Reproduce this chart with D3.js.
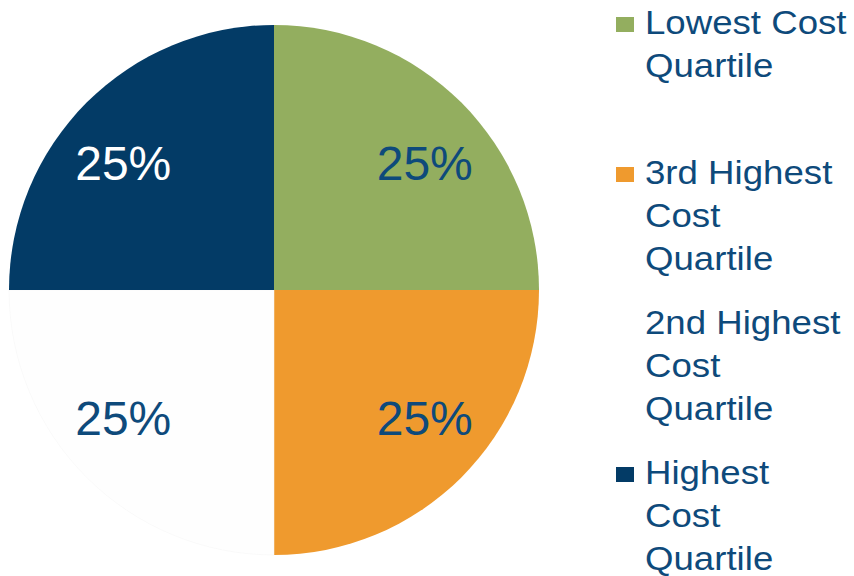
<!DOCTYPE html>
<html>
<head>
<meta charset="utf-8">
<script src="https://cdn.jsdelivr.net/npm/d3@7"></script>
<style>
  html, body { margin: 0; padding: 0; background: #fff; }
  svg { display: block; font-family: Arial, "Liberation Sans", sans-serif; }
</style>
</head>
<body>
<div id="chart"></div>
<script>
// quartile shares
const categories = ['Lowest Cost Quartile', '3rd Highest Cost Quartile', '2nd Highest Cost Quartile', 'Highest Cost Quartile'];
const values = [25, 25, 25, 25];
const colors = ['#93ae5f', '#ef9a2e', '#fefefe', '#033b66'];
const labelColors = ['#0e4a7b', '#0e4a7b', '#0e4a7b', '#ffffff'];
// legend lines (wrapped like the original)
const legendLines = [
  ['Lowest Cost', 'Quartile'],
  ['3rd Highest', 'Cost', 'Quartile'],
  ['2nd Highest', 'Cost', 'Quartile'],
  ['Highest', 'Cost', 'Quartile']
];

const width = 854, height = 576;
const margin = { cx: 274, cy: 290, r: 265, labelR: 205 };

const svg = d3.select('#chart').append('svg')
  .attr('width', width)
  .attr('height', height);

const pie = d3.pie().sort(null).value(d => d);
const arcs = pie(values);

const arc = d3.arc().innerRadius(0).outerRadius(margin.r);
const labelArc = d3.arc().innerRadius(margin.labelR).outerRadius(margin.labelR);

const g = svg.append('g')
  .attr('transform', `translate(${margin.cx},${margin.cy})`);

g.selectAll('path.slice')
  .data(arcs)
  .enter()
  .append('path')
    .attr('class', 'slice')
    .attr('d', arc)
    .attr('fill', (d, i) => colors[i])
    .attr('stroke', (d, i) => i === 2 ? '#f4f4f4' : 'none')
    .attr('stroke-width', 0.5);

// percent labels - the original sits them a bit flatter than the centroid
g.selectAll('text.pct')
  .data(arcs)
  .enter()
  .append('text')
    .attr('class', 'pct')
    .attr('x', d => labelArc.centroid(d)[0] * 1.04)
    .attr('y', d => labelArc.centroid(d)[1] * 0.88)
    .attr('dy', '0.36em')
    .attr('text-anchor', 'middle')
    .attr('font-size', 48)
    .attr('fill', (d, i) => labelColors[i])
    .text(d => d.data + '%');

// legend
const legend = svg.append('g').attr('class', 'legend');
const item = legend.selectAll('g.item')
  .data(categories)
  .enter()
  .append('g')
    .attr('class', 'item')
    .attr('transform', (d, i) => `translate(616,${34 + i * 150})`);

item.append('rect')
  .attr('x', 0)
  .attr('y', -17)
  .attr('width', 18)
  .attr('height', 15)
  .attr('fill', (d, i) => i === 2 ? 'none' : colors[i]);

item.append('text')
  .attr('transform', 'translate(29,0) scale(1.11,1)')
  .attr('font-size', 33)
  .attr('fill', '#0e4a7b')
  .selectAll('tspan')
  .data((d, i) => legendLines[i])
  .enter()
  .append('tspan')
    .attr('x', 0)
    .attr('y', (d, j) => j * 43)
    .text(d => d);
</script>
</body>
</html>
